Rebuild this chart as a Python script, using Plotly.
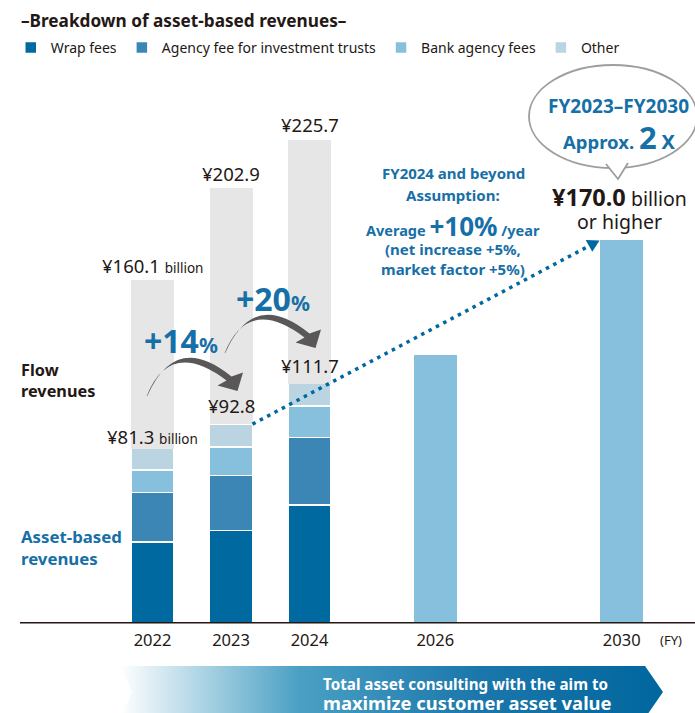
"""Breakdown of asset-based revenues: stacked bars with projections."""

import plotly.graph_objects as go

# ---- data -------------------------------------------------------------
years = ["2022", "2023", "2024", "2026", "2030"]
actual_years = ["2022", "2023", "2024"]
wrap_fees = [37.6, 43.0, 55.0]
agency_fees = [23.2, 25.8, 31.6]
bank_agency_fees = [10.6, 13.3, 14.6]
other_fees = [9.9, 10.7, 10.5]
asset_based_total = [81.3, 92.8, 111.7]
total_revenues = [160.1, 202.9, 225.7]
flow_revenues = [t - a for t, a in zip(total_revenues, asset_based_total)]
projected_years = ["2026", "2030"]
projected_values = [125.1, 178.8]

# ---- layout constants (pixel space of the 695x713 page) ---------------
W, H = 695, 713
BASE_PX = 622.7          # page row of the zero line
PX_PER_UNIT = 2.14       # pixels per ¥ billion
X_POS = {"2022": 152.5, "2023": 231.0, "2024": 309.5, "2026": 435.3, "2030": 621.7}
BAR_W = 43

FONT = "Noto Sans"
DARK = "#231815"
BLUE = "#176fa7"
C_WRAP = "#00699f"
C_AGENCY = "#3c86b6"
C_BANK = "#87c0dc"
C_OTHER = "#bad5e1"
C_FLOW = "#e6e6e6"
C_ARROW = "#595757"


def yd(py):
    """page pixel row -> y data value"""
    return (BASE_PX - py) / PX_PER_UNIT


def path_px(cmds):
    out = []
    for c in cmds:
        if c[0] == "Z":
            out.append("Z")
            continue
        pts = " ".join(f"{x:.2f},{yd(y):.3f}" for x, y in c[1:])
        out.append(f"{c[0]} {pts}")
    return " ".join(out)


fig = go.Figure()

# banner arrow at the bottom (gradient fill)
bx = [120, 645, 663, 645, 120, 132, 120]
by = [666, 666, 692, 718, 718, 692, 666]
fig.add_trace(go.Scatter(
    x=bx, y=[yd(v) for v in by], mode="lines", line=dict(width=0),
    fill="toself",
    fillgradient=dict(type="horizontal", colorscale=[
        [0, "#ffffff"], [0.33, "#4aa0c4"], [0.66, "#1b77ab"], [1, "#00669e"]]),
    hoverinfo="skip", showlegend=False,
))

actual_x = [X_POS[y] for y in actual_years]
seg_line = dict(color="white", width=1.5)
for name, vals, col in [
    ("Wrap fees", wrap_fees, C_WRAP),
    ("Agency fee for investment trusts", agency_fees, C_AGENCY),
    ("Bank agency fees", bank_agency_fees, C_BANK),
    ("Other", other_fees, C_OTHER),
]:
    fig.add_trace(go.Bar(x=actual_x, y=vals, name=name, width=BAR_W,
                         marker=dict(color=col, line=seg_line)))

fig.add_trace(go.Bar(x=actual_x, y=flow_revenues, name="Flow revenues", width=BAR_W,
                     marker=dict(color=C_FLOW, line=dict(width=0)), showlegend=False))
fig.add_trace(go.Bar(x=[X_POS[y] for y in projected_years], y=projected_values,
                     name="Projection", width=BAR_W,
                     marker=dict(color=C_BANK, line=dict(width=0)), showlegend=False))


def label(x, py, text, size, color=DARK, xanchor="center"):
    fig.add_annotation(x=x, y=yd(py), xref="x", yref="y", text=text, showarrow=False,
                       font=dict(family=FONT, size=size, color=color),
                       xanchor=xanchor, yanchor="middle", align=xanchor)


# value labels on top of the bars
for yr, tot, shift in zip(actual_years, total_revenues, [15, 15, 15]):
    txt = f"¥{tot:.1f}"
    if yr == "2022":
        txt += ' <span style="font-size:13.5px">billion</span>'
    fig.add_annotation(x=X_POS[yr], y=tot, text=txt, showarrow=False, yshift=shift,
                       font=dict(family=FONT, size=18.5, color=DARK), yanchor="middle")
for yr, tot, shift in zip(actual_years, asset_based_total, [12, 19, 18]):
    txt = f"¥{tot:.1f}"
    if yr == "2022":
        txt += ' <span style="font-size:13.5px">billion</span>'
    fig.add_annotation(x=X_POS[yr], y=tot, text=txt, showarrow=False, yshift=shift,
                       font=dict(family=FONT, size=18.5, color=DARK), yanchor="middle")

# title
label(19, 20, "<b>–Breakdown of asset-based revenues–</b>", 17.2, xanchor="left")

# side labels
label(19, 380, "<b>Flow<br>revenues</b>", 16.3, xanchor="left")
label(19, 547.5, "<b>Asset-based<br>revenues</b>", 16.8, BLUE, xanchor="left")

# growth labels
label(181, 340, '<b>+14<span style="font-size:21px">%</span></b>', 32, BLUE)
label(273, 298, '<b>+20<span style="font-size:21px">%</span></b>', 32, BLUE)

# curved arrows
arc = [("M", (147.5, 395.5)), ("Q", (176, 331), (231.5, 376.5)),
       ("L", (243, 372.5)), ("L", (237.5, 391)), ("L", (217.5, 385.5)), ("L", (226.5, 380.5)),
       ("Q", (170, 338), (146.5, 396.5)), ("Z",)]
for dx, dy in [(0, 0), (78, -43)]:
    moved = [c if c[0] == "Z" else (c[0],) + tuple((x + dx, y + dy) for x, y in c[1:])
             for c in arc]
    fig.add_shape(type="path", path=path_px(moved), xref="x", yref="y",
                  fillcolor=C_ARROW, line=dict(width=0))

# dotted trend line from 2023 to 2030
fig.add_shape(type="line", xref="x", yref="y",
              x0=X_POS["2023"] + BAR_W / 2, y0=asset_based_total[1],
              x1=589, y1=yd(246),
              line=dict(color="#0068a0", width=3.5, dash="3.5px,4.8px"))
fig.add_shape(type="path", xref="x", yref="y",
              path=path_px([("M", (585.7, 240)), ("L", (599.5, 240.5)),
                            ("L", (592.3, 251.7)), ("Z",)]),
              fillcolor="#0068a0", line=dict(width=0))

# assumption text
label(453, 173, "<b>FY2024 and beyond</b>", 15, BLUE)
label(453, 195, "<b>Assumption:</b>", 15, BLUE)
label(453, 226, '<b>Average <span style="font-size:26px">+10%</span> /year</b>', 14.5, BLUE)
label(453, 249, "<b>(net increase +5%,</b>", 15, BLUE)
label(453, 269, "<b>market factor +5%)</b>", 15, BLUE)

# speech bubble
fig.add_shape(type="circle", xref="x", yref="y",
              x0=529, x1=697, y0=yd(65), y1=yd(168),
              fillcolor="white", line=dict(color="#9e9e9f", width=1.8))
fig.add_shape(type="path", xref="x", yref="y",
              path=path_px([("M", (606, 164)), ("L", (618, 179)), ("L", (628, 163))]),
              fillcolor="white", line=dict(color="#9e9e9f", width=1.8))
label(618, 106, "<b>FY2023–FY2030</b>", 19, BLUE)
label(619, 137, '<b>Approx. <span style="font-size:31px">2</span> '
                '<span style="font-size:20px">X</span></b>', 18.5, BLUE)

label(619, 197, '<b>¥170.0</b><span style="font-size:19.5px"> billion</span>', 23.5)
label(619, 221, "or higher", 19.5)

label(671, 640, "(FY)", 13)

# banner text
label(465, 683.5, "<b>Total asset consulting with the aim to</b>", 15.2, "white")
label(467.5, 702, "<b>maximize customer asset value</b>", 18.4, "white")

# baseline
fig.add_shape(type="line", xref="x", yref="y", x0=20, x1=W, y0=0, y1=0,
              line=dict(color=DARK, width=1.5))

fig.update_layout(
    template="none",
    width=W, height=H,
    margin=dict(l=0, r=0, t=0, b=0),
    paper_bgcolor="white", plot_bgcolor="white",
    barmode="stack",
    font=dict(family=FONT, color=DARK),
    showlegend=True,
    legend=dict(orientation="h", x=0.0155, y=1 - 48 / H,
                xanchor="left", yanchor="middle",
                traceorder="normal", font=dict(family=FONT, size=14, color=DARK),
                bgcolor="rgba(0,0,0,0)", itemwidth=30),
    xaxis=dict(range=[0, W], tickvals=[X_POS[y] for y in years], ticktext=years,
               anchor="free", position=(H - BASE_PX) / H,
               showline=False, showgrid=False, zeroline=False,
               ticks="outside", ticklen=2, tickcolor="rgba(0,0,0,0)",
               tickfont=dict(family=FONT, size=16.5, color=DARK), fixedrange=True),
    yaxis=dict(range=[yd(H), yd(0)], visible=False, fixedrange=True),
)

# the page has a default 8px body margin; drop it so the figure fills the window
fig.write_html("out.html",
               config={"displayModeBar": False},
               post_script="document.body.style.margin='0';"
                           "document.body.style.overflow='hidden';")
